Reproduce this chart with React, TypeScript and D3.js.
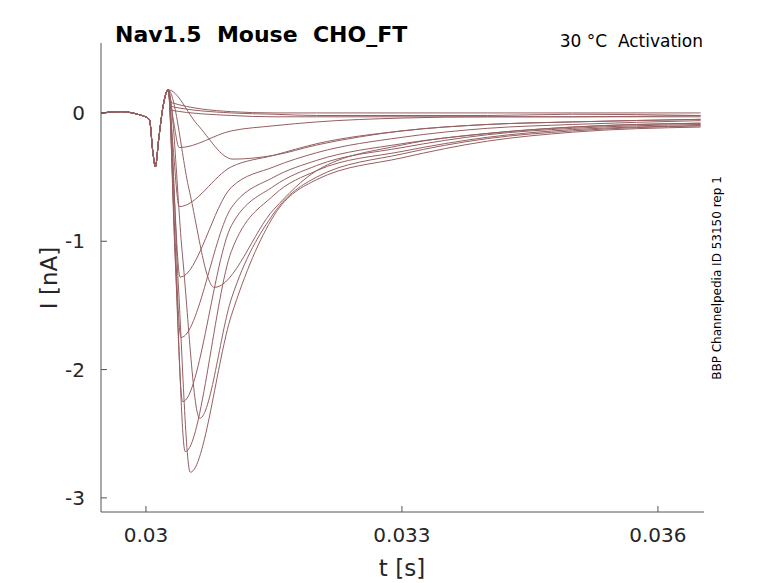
import React from "react";
import * as d3 from "d3";

const W = 778, H = 583;
const xTicks = [0.03, 0.033, 0.036];
const yTicks = [0, -1, -2, -3];
const xTickLabels = ["0.03", "0.033", "0.036"];

// common stimulus artifact (t, I)
const artifactT = [0.02948, 0.0297, 0.0299, 0.03004, 0.03008, 0.03011, 0.03015, 0.0302, 0.03026];
const artifactI = [0, 0.01, -0.01, -0.05, -0.3, -0.42, -0.2, 0.05, 0.18];

// per trace: peak time, peak current, then decay values at decayT
const peakT = [0.0303, 0.0303, 0.0303, 0.03039, 0.03102, 0.03039, 0.0304, 0.0308, 0.03041, 0.03043, 0.03063, 0.03046, 0.03052];
const peakI = [0.08, 0.05, 0.02, -0.27, -0.36, -0.73, -1.28, -1.36, -1.75, -2.25, -2.38, -2.64, -2.8];
const decayT = [0.031, 0.0315, 0.032, 0.033, 0.034, 0.035, 0.0365];
const decayI = [
  [0.01, 0.0, 0.0, 0.0, 0.0, 0.0, 0.0],
  [0.0, -0.01, -0.02, -0.02, -0.02, -0.01, -0.02],
  [-0.02, -0.03, -0.03, -0.03, -0.03, -0.03, -0.03],
  [-0.14, -0.1, -0.07, -0.04, -0.03, -0.03, -0.02],
  [-0.36, -0.33, -0.25, -0.14, -0.09, -0.07, -0.05],
  [-0.42, -0.33, -0.24, -0.14, -0.09, -0.07, -0.05],
  [-0.58, -0.42, -0.31, -0.19, -0.12, -0.09, -0.06],
  [-1.2, -0.75, -0.45, -0.25, -0.16, -0.11, -0.08],
  [-0.74, -0.5, -0.37, -0.24, -0.16, -0.11, -0.08],
  [-0.88, -0.57, -0.41, -0.27, -0.17, -0.12, -0.09],
  [-1.45, -0.78, -0.5, -0.32, -0.2, -0.14, -0.1],
  [-1.08, -0.64, -0.45, -0.3, -0.19, -0.13, -0.1],
  [-1.58, -0.8, -0.52, -0.35, -0.22, -0.15, -0.11],
];

const margin = { left: 101, right: 74, top: 43, bottom: 71 };
const x = d3.scaleLinear().domain([0.029473, 0.03654]).range([margin.left, W - margin.right]);
const y = d3.scaleLinear().domain([0.545, -3.11]).range([margin.top, H - margin.bottom]);

function tracePoints(i: number): [number, number][] {
  const pts: [number, number][] = artifactT.map((t, k) => [t, artifactI[k]]);
  const tp = peakT[i];
  const ip = peakI[i];
  // onset midpoint between artifact overshoot and peak
  const tm = 0.03026 + (tp - 0.03026) * 0.45;
  pts.push([tm, (0.18 + ip) * 0.5]);
  pts.push([tp, ip]);
  decayT.forEach((t, k) => { if (t > tp + 0.0002) pts.push([t, decayI[i][k]]); });
  return pts;
}

const line = d3.line<[number, number]>().x(d => x(d[0])).y(d => y(d[1])).curve(d3.curveMonotoneX);

export default function App() {
  const font = "DejaVu Sans, sans-serif";
  const axisC = "#555";
  return (
    <svg width={W} height={H} style={{ position: "absolute", left: 0, top: 0, background: "#fff" }} fontFamily={font}>
      <defs>
        <clipPath id="c"><rect x={margin.left} y={margin.top} width={W - margin.right - margin.left} height={H - margin.bottom - margin.top} /></clipPath>
      </defs>
      <g clipPath="url(#c)" fill="none" stroke="#965f61" strokeWidth={1}>
        {peakT.map((_, i) => <path key={i} d={line(tracePoints(i)) || ""} />)}
      </g>
      <line x1={margin.left} x2={margin.left} y1={margin.top} y2={H - margin.bottom} stroke={axisC} />
      <line x1={margin.left} x2={W - margin.right} y1={H - margin.bottom} y2={H - margin.bottom} stroke={axisC} />
      {xTicks.map((t, i) => (
        <g key={t}>
          <line x1={x(t)} x2={x(t)} y1={H - margin.bottom} y2={H - margin.bottom - 6} stroke={axisC} />
          <text x={x(t)} y={542} textAnchor="middle" fontSize={20} fill="#262626">{xTickLabels[i]}</text>
        </g>
      ))}
      {yTicks.map(t => (
        <g key={t}>
          <line x1={margin.left} x2={margin.left + 6} y1={y(t)} y2={y(t)} stroke={axisC} />
          <text x={85} y={y(t) + 7} textAnchor="end" fontSize={20} fill="#262626">{t}</text>
        </g>
      ))}
      <text x={402} y={576} textAnchor="middle" fontSize={23} fill="#262626">t [s]</text>
      <text transform="translate(57,278) rotate(-90)" textAnchor="middle" fontSize={23} fill="#262626">I [nA]</text>
      <text x={115} y={42} fontSize={22} fontWeight="bold" fill="#000">{"Nav1.5\u00a0 Mouse\u00a0 CHO_FT"}</text>
      <text x={703} y={47} textAnchor="end" fontSize={17} fill="#000">{"30 °C\u00a0 Activation"}</text>
      <text transform="translate(721,278) rotate(-90)" textAnchor="middle" fontSize={12} fill="#000">BBP Channelpedia ID 53150 rep 1</text>
    </svg>
  );
}
